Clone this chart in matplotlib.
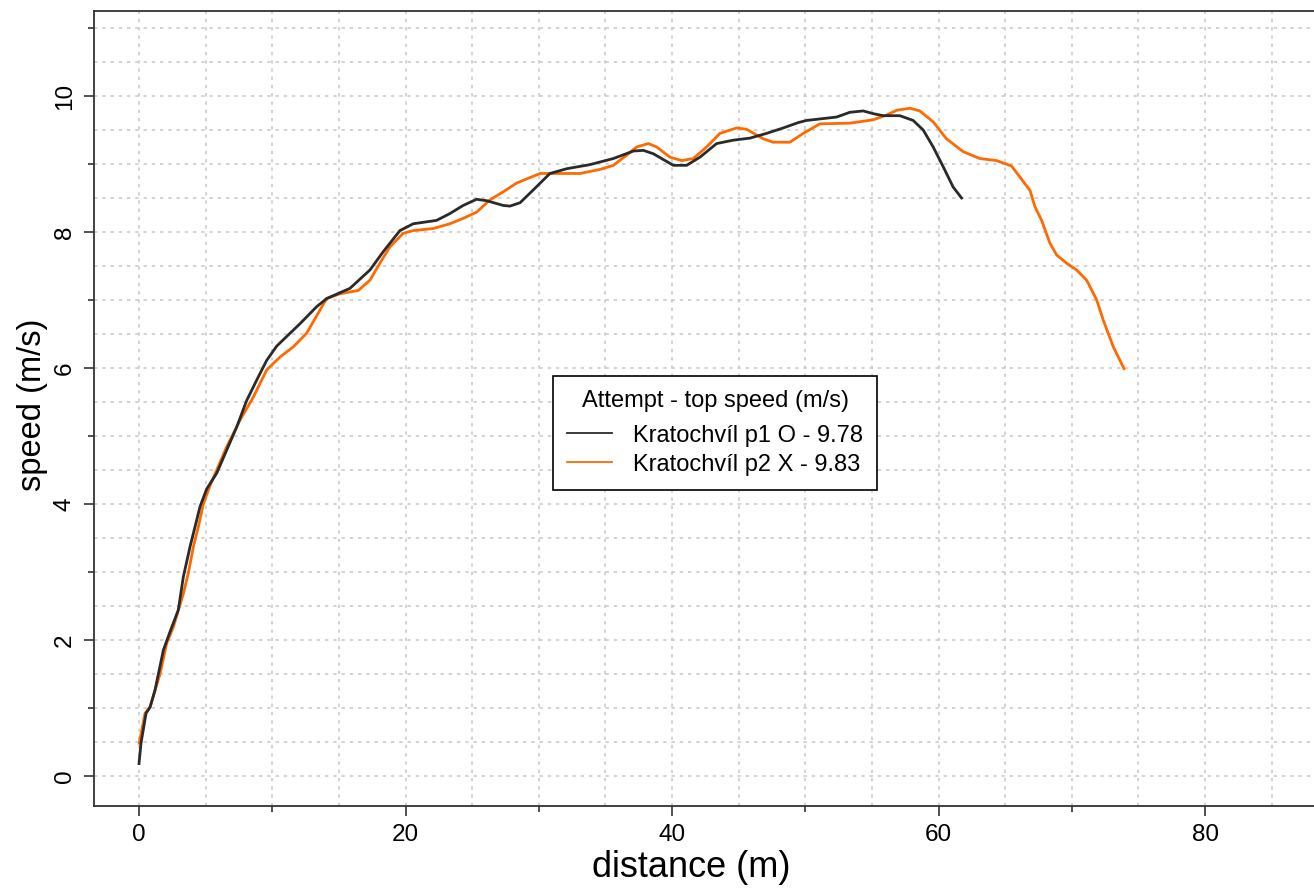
import numpy as np
import matplotlib
matplotlib.use("Agg")
import matplotlib.pyplot as plt
from matplotlib.ticker import FixedLocator

plt.rcParams['font.family'] = ['Liberation Sans', 'DejaVu Sans']

# Attempt p1 (black)
p1_x = [0.0, 0.15, 0.53, 0.83, 1.2, 1.83, 2.33, 2.95, 3.33, 3.83, 4.2, 4.58, 5.08, 5.83,
        6.58, 7.33, 8.08, 8.83, 9.58, 10.33, 12.08, 13.33, 14.08, 15.83, 17.33, 18.33,
        19.58, 20.58, 22.33, 23.33, 24.33, 25.33, 26.08, 27.33, 27.84, 28.6, 29.6, 30.84,
        32.1, 33.84, 35.6, 37.1, 37.85, 38.6, 40.1, 41.1, 42.1, 43.35, 44.6, 45.85, 47.1,
        48.35, 49.5, 50.1, 52.35, 53.35, 54.35, 55.1, 55.85, 57.1, 58.1, 58.85, 59.6,
        60.35, 61.1, 61.73]
p1_y = [0.18, 0.48, 0.92, 1.01, 1.26, 1.85, 2.12, 2.44, 2.93, 3.37, 3.66, 3.96, 4.22, 4.45,
        4.79, 5.13, 5.52, 5.82, 6.11, 6.32, 6.65, 6.9, 7.02, 7.17, 7.44, 7.71,
        8.02, 8.12, 8.17, 8.27, 8.39, 8.48, 8.46, 8.39, 8.38, 8.43, 8.62, 8.86,
        8.93, 8.99, 9.08, 9.19, 9.2, 9.15, 8.98, 8.98, 9.1, 9.3, 9.35, 9.38, 9.45,
        9.53, 9.61, 9.64, 9.69, 9.76, 9.78, 9.74, 9.71, 9.71, 9.64, 9.5, 9.25,
        8.96, 8.66, 8.5]

# Attempt p2 (orange)
p2_x = [0.02, 0.45, 0.83, 1.58, 2.08, 2.58, 3.33, 3.7, 4.08, 4.45, 4.83, 5.33, 6.58, 7.58,
        8.58, 9.58, 10.58, 11.58, 12.58, 13.58, 14.08, 15.08, 16.46, 17.33, 18.08, 18.83,
        19.83, 20.58, 22.08, 23.33, 24.33, 25.33, 26.33, 27.33, 28.35, 30.1, 32.1, 33.1,
        34.6, 35.6, 36.6, 37.35, 38.22, 38.85, 39.85, 40.73, 41.6, 42.6, 43.6, 44.85,
        45.6, 46.85, 47.6, 48.85, 49.85, 51.1, 53.35, 55.1, 56.1, 56.87, 57.86, 58.6,
        59.6, 60.6, 61.86, 63.1, 64.35, 65.48, 66.1, 66.87, 67.24, 67.74, 68.37, 68.87,
        69.62, 70.37, 71.12, 71.87, 72.37, 73.12, 73.92]
p2_y = [0.48, 0.92, 1.01, 1.5, 1.95, 2.19, 2.68, 2.98, 3.37, 3.66, 4.0, 4.27, 4.84, 5.23,
        5.57, 5.97, 6.16, 6.31, 6.51, 6.85, 7.02, 7.09, 7.14, 7.29, 7.54, 7.78,
        7.98, 8.02, 8.05, 8.12, 8.2, 8.29, 8.47, 8.59, 8.72, 8.86, 8.86, 8.86,
        8.92, 8.98, 9.13, 9.25, 9.3, 9.25, 9.1, 9.05, 9.08, 9.25, 9.45, 9.53,
        9.51, 9.37, 9.32, 9.32, 9.45, 9.59, 9.6, 9.65, 9.72, 9.79, 9.82, 9.78,
        9.62, 9.37, 9.18, 9.08, 9.05, 8.97, 8.81, 8.61, 8.37, 8.17, 7.83, 7.66,
        7.54, 7.44, 7.29, 7.0, 6.7, 6.31, 5.99]

labels = ["Kratochvíl p1 O - 9.78", "Kratochvíl p2 X - 9.83"]
colors = ["#2a2a2a", "#ff6a00"]
legend_title = "Attempt - top speed (m/s)"

x_major = [0, 20, 40, 60, 80]
x_minor = [10, 30, 50, 70]
y_major = [0, 2, 4, 6, 8, 10]
y_minor = [1, 3, 5, 7, 9, 11]

fig = plt.figure(figsize=(13.14, 8.88), dpi=100)
ax = fig.add_axes([93.7 / 1314, (888 - 805.7) / 888, (1318 - 93.7) / 1314, (805.7 - 11) / 888])

xlim = (-3.40, (1318 - 139) / 13.325)
ylim = (-0.44, 11.25)
ax.set_xlim(*xlim)
ax.set_ylim(*ylim)

# dotted grid every 5 m and 0.5 m/s
for gx in np.arange(0, 90, 5):
    ax.axvline(gx, color="#c8c8c8", lw=1.1, ls=(0, (2.2, 3.2)), zorder=0)
for gy in np.arange(0, 11.5, 0.5):
    ax.axhline(gy, color="#c8c8c8", lw=1.1, ls=(0, (2.2, 3.2)), zorder=0)

ax.plot(p1_x, p1_y, color=colors[0], lw=2.0, label=labels[0], zorder=3)
ax.plot(p2_x, p2_y, color=colors[1], lw=2.0, label=labels[1], zorder=2)

ax.xaxis.set_major_locator(FixedLocator(x_major))
ax.xaxis.set_minor_locator(FixedLocator(x_minor))
ax.yaxis.set_major_locator(FixedLocator(y_major))
ax.yaxis.set_minor_locator(FixedLocator(y_minor))
ax.tick_params(which="major", length=7, width=1.2, labelsize=17.5, color="#333333", pad=6)
ax.tick_params(which="minor", length=4, width=1.2, color="#333333")
ax.tick_params(axis="y", which="major", labelrotation=90)
for lab in ax.get_yticklabels():
    lab.set_verticalalignment("center")

for side in ["left", "bottom", "top"]:
    ax.spines[side].set_linewidth(1.3)
    ax.spines[side].set_color("#333333")
ax.spines["right"].set_visible(False)

ax.set_xlabel("distance (m)", fontsize=26, va="center")
ax.set_ylabel("speed (m/s)", fontsize=23.5, va="center")
ax.xaxis.set_label_coords((691 - 93.7) / (1318 - 93.7), -(867 - 805.7) / 794.7)
ax.yaxis.set_label_coords(-(93.7 - 32) / (1318 - 93.7), (805.7 - 405) / 794.7)

leg = ax.legend(title=legend_title, loc="upper left",
                bbox_to_anchor=((553 - 93.7) / (1318 - 93.7), (805.7 - 376) / 794.7),
                borderaxespad=0, fontsize=17, title_fontsize=17, frameon=True,
                fancybox=False, edgecolor="black", framealpha=1,
                handlelength=1.9, handletextpad=0.9, borderpad=0.6, labelspacing=0.3)
leg.get_frame().set_linewidth(1.2)
leg._legend_box.sep = 9
for ln in leg.get_lines():
    ln.set_linewidth(1.3)

fig.savefig("out.png", dpi=100)
